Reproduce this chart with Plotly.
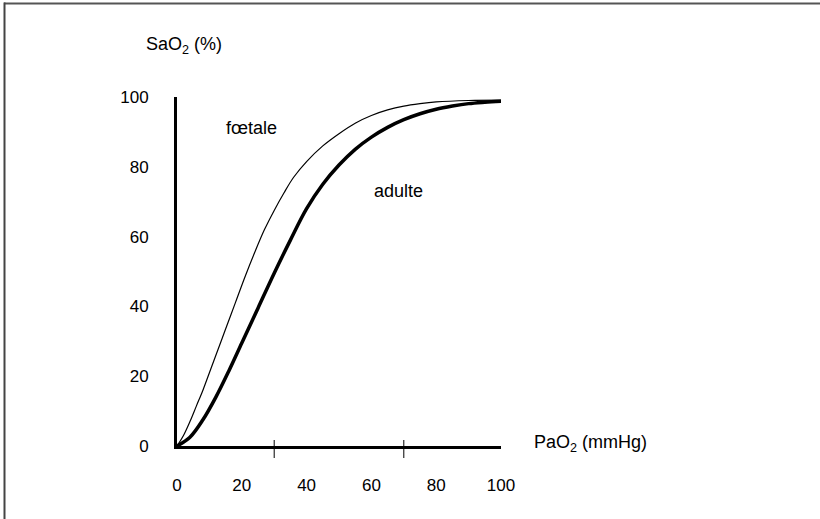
import plotly.graph_objects as go

# Data
pao2_adult = [0, 4, 8, 12, 16, 20, 25, 30, 35, 40, 45, 50, 55, 60, 65, 70, 75, 80, 85, 90, 95, 100]
sao2_adult = [0, 2.5, 7.5, 14, 21.5, 29.5, 39.5, 49.5, 59, 68, 75, 80.5, 85, 88.5, 91.3, 93.5, 95.2, 96.5, 97.4, 98.1, 98.5, 98.8]
pao2_fetal = [0, 2, 4, 6, 8, 10, 12, 15, 18, 21, 24, 27, 30, 33, 36, 40, 45, 50, 55, 60, 65, 70, 75, 80, 90, 100]
sao2_fetal = [0, 3, 7, 11.5, 16, 21, 26, 33.5, 41, 48.5, 55.5, 62, 67.5, 72.5, 77, 81.5, 86, 89.5, 92.5, 94.7, 96.3, 97.4, 98.1, 98.6, 99, 99.1]
x_ticks = [0, 20, 40, 60, 80, 100]
y_ticks = [0, 20, 40, 60, 80, 100]
x_marks = [30, 70]
labels = [("fœtale", 23, 91), ("adulte", 68.5, 73)]

W, H = 820, 519
L, R, T, B = 177, 501, 97, 446
pw, ph = R - L, B - T

def px(x):
    return (x - L) / pw

def py(y):
    return (B - y) / ph

FONT = "Liberation Sans, Arial, Helvetica, sans-serif"
SUB = "<sub>2</sub>"

fig = go.Figure()
fig.add_trace(go.Scatter(x=pao2_fetal, y=sao2_fetal, mode="lines",
                         line=dict(color="black", width=1.2, shape="spline"),
                         showlegend=False, hoverinfo="skip"))
fig.add_trace(go.Scatter(x=pao2_adult, y=sao2_adult, mode="lines",
                         line=dict(color="black", width=3.5, shape="spline"),
                         showlegend=False, hoverinfo="skip"))

shapes = []
for xm in x_marks:
    shapes.append(dict(type="line", xref="x", yref="paper", ysizemode="pixel", yanchor=0,
                       x0=xm, x1=xm, y0=-12, y1=6, line=dict(color="black", width=1)))
# frame lines (top and left)
shapes.append(dict(type="line", xref="paper", yref="paper", x0=px(4), x1=px(W + 5),
                   y0=py(3.5), y1=py(3.5), line=dict(color="#555555", width=2)))
shapes.append(dict(type="line", xref="paper", yref="paper", x0=px(4.5), x1=px(4.5),
                   y0=py(2.5), y1=py(H + 5), line=dict(color="#444444", width=2)))

annotations = []
for txt, ax, ay in labels:
    annotations.append(dict(text=txt, x=ax, y=ay, xref="x", yref="y", showarrow=False,
                            font=dict(size=18, color="black", family=FONT)))
annotations.append(dict(text="SaO" + SUB + " (%)", x=px(144), y=py(45), xref="paper", yref="paper",
                        xanchor="left", yanchor="middle", showarrow=False,
                        font=dict(size=18, color="black", family=FONT)))
annotations.append(dict(text="PaO" + SUB + " (mmHg)", x=px(532), y=py(443), xref="paper", yref="paper",
                        xanchor="left", yanchor="middle", showarrow=False,
                        font=dict(size=18, color="black", family=FONT)))

fig.update_layout(
    width=W, height=H,
    margin=dict(l=L, r=W - R, t=T, b=H - B, pad=0),
    paper_bgcolor="white", plot_bgcolor="white",
    font=dict(family=FONT, size=17, color="black"),
    xaxis=dict(range=[0, 100], tickvals=x_ticks, ticks="", showgrid=False, zeroline=False,
               showline=True, linecolor="black", linewidth=3, ticklabelstandoff=22,
               tickfont=dict(size=17)),
    yaxis=dict(range=[0, 100], tickvals=y_ticks, ticks="", showgrid=False, zeroline=False,
               showline=True, linecolor="black", linewidth=3, ticklabelstandoff=22,
               tickfont=dict(size=17)),
    shapes=shapes, annotations=annotations,
)

fig.write_html("out.html", config={"displayModeBar": False},
               post_script="document.body.style.margin='0';document.body.style.padding='0';")
